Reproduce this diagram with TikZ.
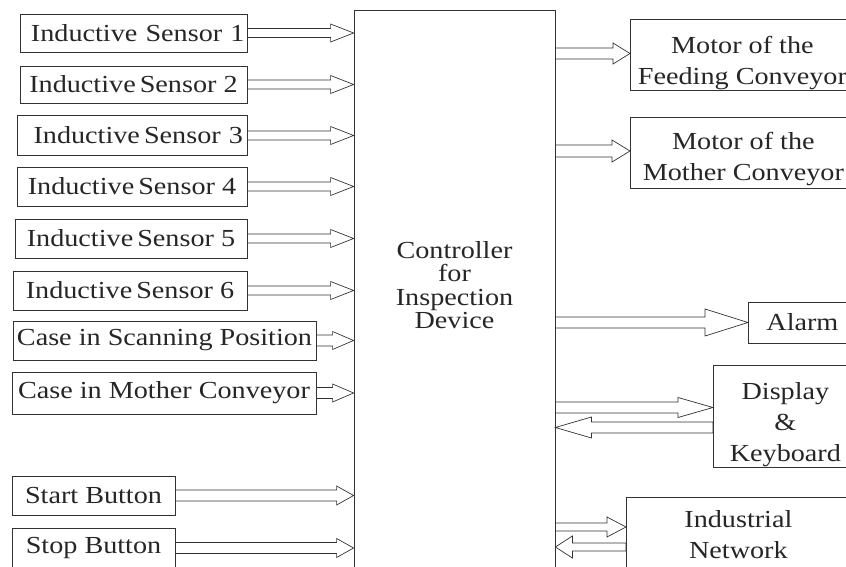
\documentclass[tikz,border=0pt]{standalone}
\usepackage{fontspec}
\setmainfont{Liberation Serif}[FakeStretch=1.15]
\usepackage{tikz}
\usetikzlibrary{calc}

\begin{document}
\begin{tikzpicture}[x=1pt,y=-1pt,
	box/.style={draw=black!80, line width=0.8pt, inner sep=0pt, align=center, text=black!85, font=\fontsize{24.5}{31}\selectfont},
	fat/.style n args={3}{draw=black!80, line width=0.7pt, to path={let \p1=(\tikztostart), \p2=(\tikztotarget), \n1={sign(\x2-\x1)} in
		(\x1,\y1+#1pt) -- ({\x2-(\n1)*#2pt},\y2+#1pt) -- ({\x2-(\n1)*#2pt},\y2+#3pt) -- (\x2,\y2)
		-- ({\x2-(\n1)*#2pt},\y2-#3pt) -- ({\x2-(\n1)*#2pt},\y2-#1pt) -- (\x1,\y1-#1pt) -- cycle}}]
	\useasboundingbox (0,0) rectangle (846,567);
	\clip (0,0) rectangle (846,567);
	
	%Controller
	\node[box, minimum width=201pt, minimum height=620pt, anchor=north] (ctrl) at (454.5,10) {};
	\node[align=center, text=black!85, font=\fontsize{24.5}{23.5}\selectfont] (ctrltxt) at (454.5,285) {Controller\\for\\Inspection\\Device};
	
	%Inputs
	\node[box, minimum width=227pt, minimum height=38pt, text width=222pt, align=right] (s1) at (133.5,33) {Inductive Sensor 1};
	\node[box, minimum width=227pt, minimum height=37pt] (s2) at (133.5,84.5) {Inductive\,Sensor 2};
	\node[box, minimum width=230pt, minimum height=40pt, text width=222pt, align=right] (s3) at (132,135.5) {Inductive\,Sensor 3};
	\node[box, minimum width=230pt, minimum height=39pt] (s4) at (132,186.5) {Inductive\,Sensor 4};
	\node[box, minimum width=232pt, minimum height=39pt] (s5) at (131,238.5) {Inductive\,Sensor 5};
	\node[box, minimum width=234pt, minimum height=39pt] (s6) at (130,290.5) {Inductive\,Sensor 6};
	\node[box, minimum width=303pt, minimum height=39pt] (scan) at (164.5,340.5) {Case in Scanning Position};
	\node[box, minimum width=304pt, minimum height=42pt] (moth) at (164,393) {Case in Mother Conveyor};
	\node[box, minimum width=163pt, minimum height=39pt] (start) at (93.5,495.5) {Start Button};
	\node[box, minimum width=163pt, minimum height=40pt] (stop) at (93.5,548) {Stop Button};
	
	%Outputs
	\node[box, minimum width=224pt, minimum height=71pt, anchor=west] (feed) at (630,54.5) {\rule{0pt}{34pt}Motor of the\\Feeding Conveyor};
	\node[box, minimum width=226pt, minimum height=71pt, anchor=west] (mconv) at (630,152.5) {\rule{0pt}{30pt}Motor of the\\Mother Conveyor};
	\node[box, minimum width=108pt, minimum height=41pt, anchor=west] (alarm) at (748,322.5) {Alarm};
	\node[box, minimum width=144pt, minimum height=101pt, anchor=west] (disp) at (713,416.5) {\rule{0pt}{34pt}Display\\\&\\Keyboard};
	\node[box, minimum width=224pt, minimum height=72pt, anchor=west] (net) at (626,533) {\rule{0pt}{20pt}Industrial\\Network};
	
	%input arrows
	\draw[fat={4.5}{23}{9}] (s1.east) to (ctrl.west |- s1.east);
	\draw[fat={4.5}{23}{9}] (s2.east) to (ctrl.west |- s2.east);
	\draw[fat={4.5}{23}{9}] (s3.east) to (ctrl.west |- s3.east);
	\draw[fat={4.5}{23}{9}] (s4.east) to (ctrl.west |- s4.east);
	\draw[fat={4.5}{23}{9}] (s5.east) to (ctrl.west |- s5.east);
	\draw[fat={4.5}{23}{9}] (s6.east) to (ctrl.west |- s6.east);
	\draw[fat={5.5}{21}{9}] (scan.east) to (ctrl.west |- scan.east);
	\draw[fat={5.5}{21}{9}] (moth.east) to (ctrl.west |- moth.east);
	\draw[fat={5.5}{17}{9.5}] (start.east) to (ctrl.west |- start.east);
	\draw[fat={5.5}{17}{9.5}] (stop.east) to (ctrl.west |- stop.east);
	
	%output arrows
	\draw[fat={5.5}{17}{10.5}] ([yshift=1pt]ctrl.east |- feed.west) to ([yshift=1pt]feed.west);
	\draw[fat={6}{18}{11}] ([yshift=1.5pt]ctrl.east |- mconv.west) to ([yshift=1.5pt]mconv.west);
	\draw[fat={5.5}{43}{13.5}] (ctrl.east |- alarm.west) to (alarm.west);
	\draw[fat={5.5}{35}{10}] ([yshift=9pt]ctrl.east |- disp.west) to ([yshift=9pt]disp.west);
	\draw[fat={5.5}{36}{10.5}] ([yshift=-11pt]disp.west) to ([yshift=-11pt]ctrl.east |- disp.west);
	\draw[fat={4}{19}{10}] ([yshift=6pt]ctrl.east |- net.west) to ([yshift=6pt]net.west);
	\draw[fat={4}{17}{11}] ([yshift=-14pt]net.west) to ([yshift=-14pt]ctrl.east |- net.west);
\end{tikzpicture}
\end{document}
